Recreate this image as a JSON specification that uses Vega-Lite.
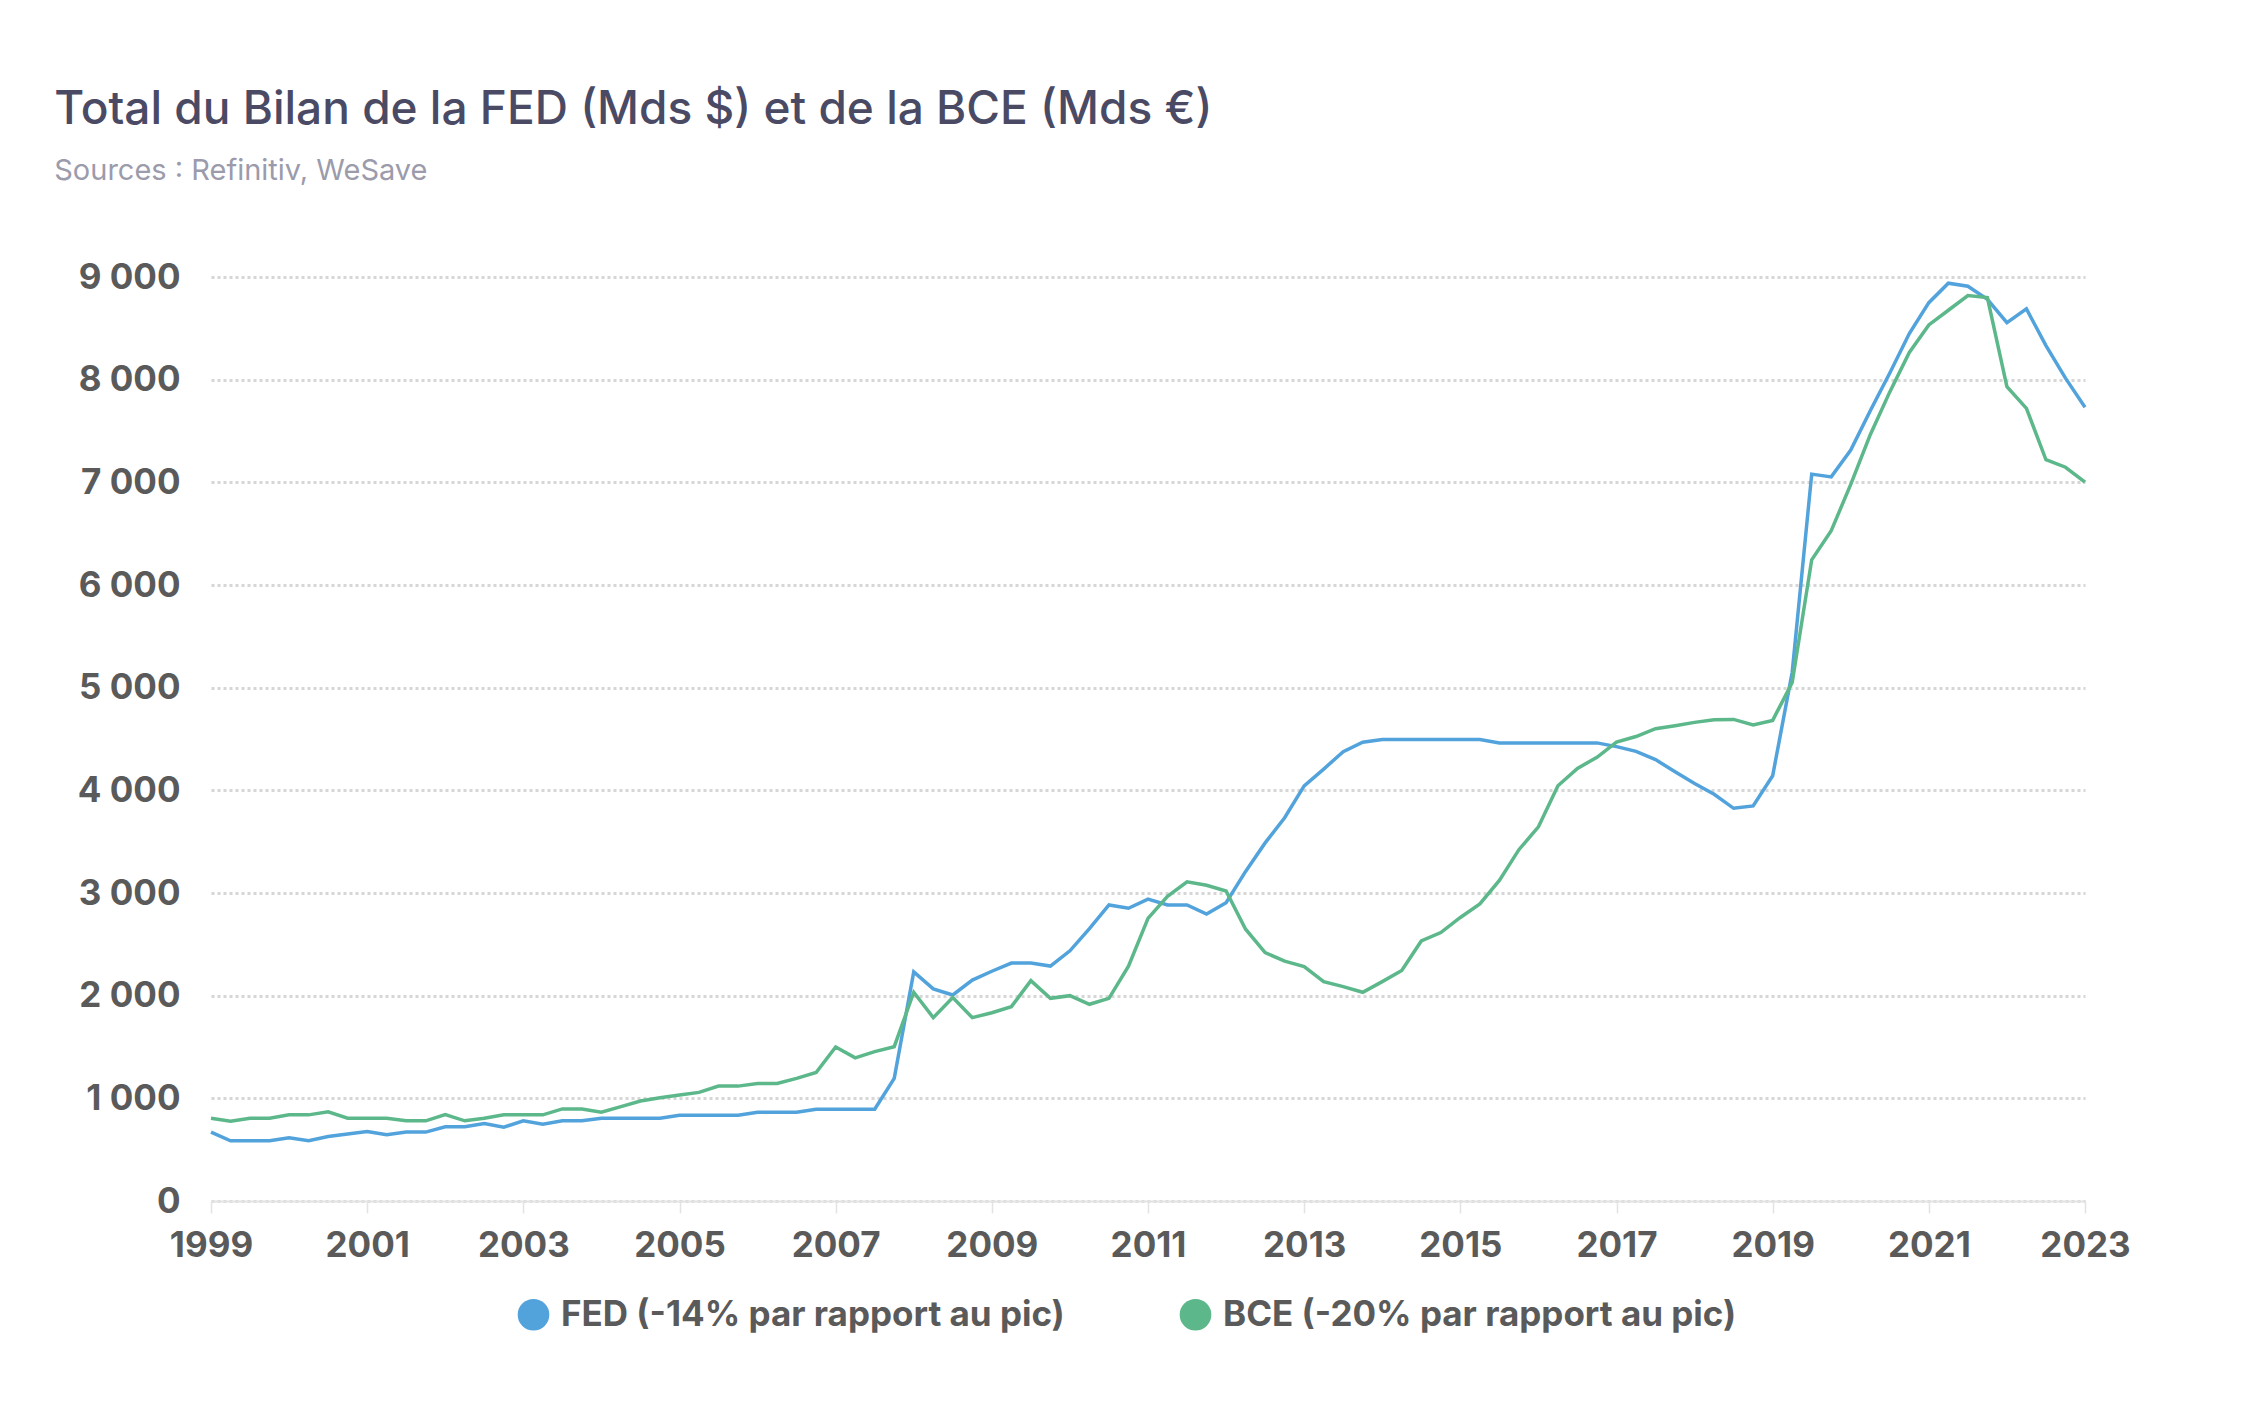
{
  "$schema": "https://vega.github.io/schema/vega-lite/v6.json",
  "width": 1874,
  "height": 924,
  "padding": {"left": 54, "top": 87, "right": 40, "bottom": 40},
  "background": "#ffffff",
  "title": {
    "text": "Total du Bilan de la FED (Mds $) et de la BCE (Mds €)",
    "subtitle": "Sources : Refinitiv, WeSave",
    "anchor": "start",
    "dx": -23,
    "offset": 73
  },
  "config": {
    "font": "Inter",
    "view": {"stroke": null},
    "title": {
      "font": "Inter",
      "fontSize": 46,
      "fontWeight": 500,
      "color": "#4a4a65",
      "subtitleFont": "Inter",
      "subtitleFontSize": 29,
      "subtitleColor": "#9b9bab",
      "subtitlePadding": 23
    },
    "axis": {
      "labelFont": "Inter",
      "labelFontSize": 35,
      "labelFontWeight": "bold",
      "labelColor": "#5a5a5a",
      "title": null
    },
    "legend": {
      "labelFont": "Inter",
      "labelFontSize": 35,
      "labelFontWeight": "bold",
      "labelColor": "#5a5a5a"
    }
  },
  "data": {
    "values": [
      {"t": 1999, "fed": 671, "bce": 806},
      {"t": 1999.25, "fed": 587, "bce": 777},
      {"t": 1999.5, "fed": 587, "bce": 806},
      {"t": 1999.75, "fed": 587, "bce": 806},
      {"t": 2000, "fed": 616, "bce": 839},
      {"t": 2000.25, "fed": 587, "bce": 839},
      {"t": 2000.5, "fed": 629, "bce": 868},
      {"t": 2000.75, "fed": 652, "bce": 806},
      {"t": 2001, "fed": 677, "bce": 806},
      {"t": 2001.25, "fed": 645, "bce": 806},
      {"t": 2001.5, "fed": 671, "bce": 781},
      {"t": 2001.75, "fed": 671, "bce": 781},
      {"t": 2002, "fed": 723, "bce": 842},
      {"t": 2002.25, "fed": 723, "bce": 781},
      {"t": 2002.5, "fed": 755, "bce": 806},
      {"t": 2002.75, "fed": 719, "bce": 839},
      {"t": 2003, "fed": 781, "bce": 839},
      {"t": 2003.25, "fed": 748, "bce": 839},
      {"t": 2003.5, "fed": 781, "bce": 897},
      {"t": 2003.75, "fed": 781, "bce": 897},
      {"t": 2004, "fed": 806, "bce": 865},
      {"t": 2004.25, "fed": 806, "bce": 919},
      {"t": 2004.5, "fed": 806, "bce": 974},
      {"t": 2004.75, "fed": 806, "bce": 1006},
      {"t": 2005, "fed": 835, "bce": 1032},
      {"t": 2005.25, "fed": 835, "bce": 1058},
      {"t": 2005.5, "fed": 835, "bce": 1119},
      {"t": 2005.75, "fed": 835, "bce": 1119},
      {"t": 2006, "fed": 865, "bce": 1145},
      {"t": 2006.25, "fed": 865, "bce": 1145},
      {"t": 2006.5, "fed": 865, "bce": 1194},
      {"t": 2006.75, "fed": 894, "bce": 1252},
      {"t": 2007, "fed": 894, "bce": 1500},
      {"t": 2007.25, "fed": 894, "bce": 1394},
      {"t": 2007.5, "fed": 894, "bce": 1455},
      {"t": 2007.75, "fed": 1195, "bce": 1503},
      {"t": 2008, "fed": 2232, "bce": 2033},
      {"t": 2008.25, "fed": 2066, "bce": 1786},
      {"t": 2008.5, "fed": 2007, "bce": 1981},
      {"t": 2008.75, "fed": 2152, "bce": 1786},
      {"t": 2009, "fed": 2238, "bce": 1834},
      {"t": 2009.25, "fed": 2318, "bce": 1893},
      {"t": 2009.5, "fed": 2318, "bce": 2146},
      {"t": 2009.75, "fed": 2288, "bce": 1974},
      {"t": 2010, "fed": 2437, "bce": 2000},
      {"t": 2010.25, "fed": 2652, "bce": 1916},
      {"t": 2010.5, "fed": 2884, "bce": 1974},
      {"t": 2010.75, "fed": 2851, "bce": 2288},
      {"t": 2011, "fed": 2940, "bce": 2752},
      {"t": 2011.25, "fed": 2884, "bce": 2967},
      {"t": 2011.5, "fed": 2884, "bce": 3109},
      {"t": 2011.75, "fed": 2795, "bce": 3075},
      {"t": 2012, "fed": 2905, "bce": 3020},
      {"t": 2012.25, "fed": 3210, "bce": 2647},
      {"t": 2012.5, "fed": 3488, "bce": 2419},
      {"t": 2012.75, "fed": 3733, "bce": 2337},
      {"t": 2013, "fed": 4044, "bce": 2284},
      {"t": 2013.25, "fed": 4207, "bce": 2137},
      {"t": 2013.5, "fed": 4377, "bce": 2088},
      {"t": 2013.75, "fed": 4469, "bce": 2033},
      {"t": 2014, "fed": 4495, "bce": 2137},
      {"t": 2014.25, "fed": 4495, "bce": 2245},
      {"t": 2014.5, "fed": 4495, "bce": 2533},
      {"t": 2014.75, "fed": 4495, "bce": 2615},
      {"t": 2015, "fed": 4495, "bce": 2762},
      {"t": 2015.25, "fed": 4495, "bce": 2893},
      {"t": 2015.5, "fed": 4462, "bce": 3122},
      {"t": 2015.75, "fed": 4462, "bce": 3422},
      {"t": 2016, "fed": 4462, "bce": 3645},
      {"t": 2016.25, "fed": 4462, "bce": 4044},
      {"t": 2016.5, "fed": 4462, "bce": 4214},
      {"t": 2016.75, "fed": 4462, "bce": 4322},
      {"t": 2017, "fed": 4426, "bce": 4469},
      {"t": 2017.25, "fed": 4380, "bce": 4524},
      {"t": 2017.5, "fed": 4299, "bce": 4600},
      {"t": 2017.75, "fed": 4181, "bce": 4629},
      {"t": 2018, "fed": 4067, "bce": 4662},
      {"t": 2018.25, "fed": 3962, "bce": 4688},
      {"t": 2018.5, "fed": 3825, "bce": 4691},
      {"t": 2018.75, "fed": 3848, "bce": 4636},
      {"t": 2019, "fed": 4142, "bce": 4681},
      {"t": 2019.25, "fed": 5150, "bce": 5050},
      {"t": 2019.5, "fed": 7080, "bce": 6245},
      {"t": 2019.75, "fed": 7053, "bce": 6529},
      {"t": 2020, "fed": 7314, "bce": 6980},
      {"t": 2020.25, "fed": 7698, "bce": 7464},
      {"t": 2020.5, "fed": 8065, "bce": 7881},
      {"t": 2020.75, "fed": 8449, "bce": 8265},
      {"t": 2021, "fed": 8750, "bce": 8533},
      {"t": 2021.25, "fed": 8940, "bce": 8676},
      {"t": 2021.5, "fed": 8910, "bce": 8820},
      {"t": 2021.75, "fed": 8783, "bce": 8800},
      {"t": 2022, "fed": 8556, "bce": 7932},
      {"t": 2022.25, "fed": 8689, "bce": 7721},
      {"t": 2022.5, "fed": 8332, "bce": 7220},
      {"t": 2022.75, "fed": 8015, "bce": 7147},
      {"t": 2023, "fed": 7731, "bce": 7003}
    ]
  },
  "transform": [
    {"fold": ["fed", "bce"], "as": ["serie", "valeur"]}
  ],
  "mark": {"type": "line", "strokeWidth": 3.5, "interpolate": "linear"},
  "encoding": {
    "x": {
      "field": "t",
      "type": "quantitative",
      "scale": {"domain": [1999, 2023], "nice": false, "zero": false},
      "axis": {
        "values": [1999, 2001, 2003, 2005, 2007, 2009, 2011, 2013, 2015, 2017, 2019, 2021, 2023],
        "format": "d",
        "grid": false,
        "domain": true,
        "domainColor": "#e3e3e3",
        "domainWidth": 2,
        "ticks": true,
        "tickColor": "#e3e3e3",
        "tickSize": 12,
        "tickWidth": 1.5,
        "labelPadding": 15,
        "labelFlush": false
      }
    },
    "y": {
      "field": "valeur",
      "type": "quantitative",
      "scale": {"domain": [0, 9000], "nice": false},
      "axis": {
        "values": [0, 1000, 2000, 3000, 4000, 5000, 6000, 7000, 8000, 9000],
        "labelExpr": "replace(format(datum.value, ','), ',', ' ')",
        "domain": false,
        "ticks": false,
        "labelPadding": 31,
        "grid": true,
        "gridColor": "#d6d6d6",
        "gridDash": [3, 3],
        "gridWidth": 3
      }
    },
    "color": {
      "field": "serie",
      "type": "nominal",
      "scale": {"domain": ["fed", "bce"], "range": ["#52a3dc", "#5cb88a"]},
      "legend": {
        "title": null,
        "orient": "none",
        "direction": "horizontal",
        "legendX": 305,
        "legendY": 1020,
        "symbolType": "circle",
        "symbolSize": 1000,
        "labelOffset": 10,
        "columnPadding": 113,
        "labelLimit": 800,
        "labelExpr": "datum.label == 'fed' ? 'FED (-14% par rapport au pic)' : 'BCE (-20% par rapport au pic)'",
        "encode": {
          "symbols": {
            "update": {
              "fill": {"scale": "color", "field": "value"},
              "fillOpacity": {"value": 1},
              "strokeWidth": {"value": 0}
            }
          }
        }
      }
    }
  }
}
